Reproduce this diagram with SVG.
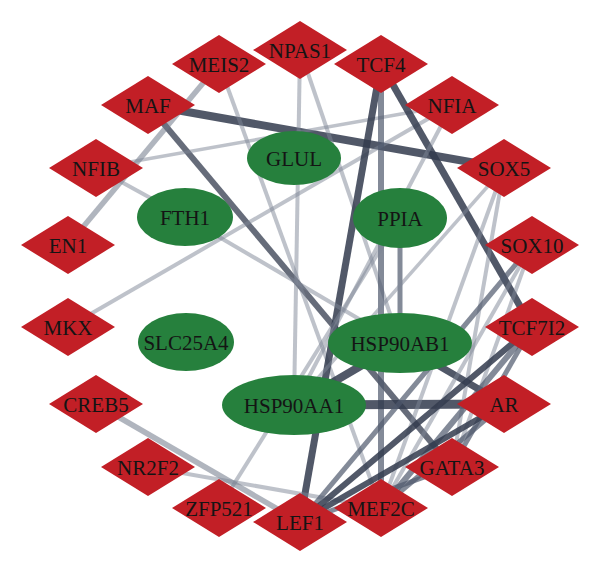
<svg xmlns="http://www.w3.org/2000/svg" xmlns:xlink="http://www.w3.org/1999/xlink" width="600" height="572" viewBox="0 0 600 572">
<style>
.e{fill:none;stroke-linecap:butt}
.l{stroke:#7d8596;stroke-opacity:0.5;stroke-width:4}
.l5{stroke:#6f7889;stroke-opacity:0.55;stroke-width:5.5}
.m{stroke:#4f586c;stroke-opacity:0.7;stroke-width:5.5}
.d{stroke:#333b4e;stroke-opacity:0.85;stroke-width:7}
.tf{fill:#c21f26}
.pr{fill:#26803d}
text{font-family:"Liberation Serif","Times New Roman",serif;font-size:21px;fill:#141414;text-anchor:middle}
</style>
<defs>
<polygon id="dm" points="-47,0 0,-29 47,0 0,29"/>
</defs>
<rect width="600" height="572" fill="#ffffff"/>
<g id="edges" class="e">
<line class="d" x1="148" y1="105" x2="504" y2="168" style="stroke-width:8"/>
<line class="d" x1="148" y1="105" x2="452" y2="467" style="stroke-width:6;stroke-opacity:0.75"/>
<line class="l5" x1="219" y1="64" x2="68" y2="245"/>
<line class="l" x1="219" y1="64" x2="381" y2="508"/>
<line class="l" x1="96" y1="168" x2="452" y2="105" style="stroke-width:3.5"/>
<line class="l" x1="96" y1="168" x2="185" y2="217"/>
<line class="l" x1="68" y1="327" x2="452" y2="105"/>
<line class="l" x1="300" y1="50" x2="294" y2="405"/>
<line class="l" x1="300" y1="50" x2="400" y2="343"/>
<line class="d" x1="381" y1="64" x2="300" y2="522"/>
<line class="m" x1="381" y1="64" x2="381" y2="508" style="stroke-width:6"/>
<line class="d" x1="381" y1="64" x2="532" y2="327"/>
<line class="l" x1="452" y1="105" x2="294" y2="405"/>
<line class="l" x1="185" y1="217" x2="400" y2="343"/>
<line class="m" x1="400" y1="218" x2="400" y2="343" style="stroke-width:5"/>
<line class="l" x1="400" y1="218" x2="219" y2="508"/>
<line class="d" x1="294" y1="405" x2="400" y2="343" style="stroke-width:8"/>
<line class="d" x1="294" y1="405" x2="504" y2="404" style="stroke-width:9"/>
<line class="d" x1="400" y1="343" x2="504" y2="404"/>
<line class="l5" x1="96" y1="404" x2="300" y2="522"/>
<line class="l" x1="148" y1="467" x2="381" y2="508"/>
<line class="l" x1="504" y1="168" x2="452" y2="467"/>
<line class="l" x1="504" y1="168" x2="381" y2="508"/>
<line class="l" x1="504" y1="168" x2="294" y2="405" style="stroke-width:3.5"/>
<line class="m" x1="532" y1="245" x2="300" y2="522" style="stroke-width:5"/>
<line class="l" x1="532" y1="245" x2="381" y2="508"/>
<line class="l" x1="532" y1="245" x2="452" y2="467"/>
<line class="d" x1="532" y1="327" x2="300" y2="522" style="stroke-width:6"/>
<line class="m" x1="532" y1="327" x2="381" y2="508" style="stroke-width:6"/>
<line class="m" x1="532" y1="327" x2="452" y2="467" style="stroke-width:5"/>
<line class="d" x1="504" y1="404" x2="300" y2="522" style="stroke-width:6"/>
<line class="m" x1="504" y1="404" x2="381" y2="508" style="stroke-width:5"/>
<line class="m" x1="452" y1="467" x2="300" y2="522" style="stroke-width:5"/>
</g>
<g id="nodes">
<g id="n-GLUL"><ellipse class="pr" cx="294" cy="158" rx="47" ry="27"/><text x="294" y="165.5">GLUL</text></g>
<g id="n-FTH1"><ellipse class="pr" cx="185" cy="217" rx="48" ry="29"/><text x="185" y="224.5">FTH1</text></g>
<g id="n-PPIA"><ellipse class="pr" cx="400" cy="218" rx="47" ry="30"/><text x="400" y="225.5">PPIA</text></g>
<g id="n-SLC25A4"><ellipse class="pr" cx="186" cy="342" rx="48" ry="29"/><text x="186" y="349.5">SLC25A4</text></g>
<g id="n-HSP90AB1"><ellipse class="pr" cx="400" cy="343" rx="72" ry="30"/><text x="400" y="350.5">HSP90AB1</text></g>
<g id="n-HSP90AA1"><ellipse class="pr" cx="294" cy="405" rx="72" ry="30"/><text x="294" y="412.5">HSP90AA1</text></g>
<g id="n-NPAS1"><use xlink:href="#dm" class="tf" x="300" y="50"/><text x="300" y="57.5">NPAS1</text></g>
<g id="n-TCF4"><use xlink:href="#dm" class="tf" x="381" y="64"/><text x="381" y="71.5">TCF4</text></g>
<g id="n-NFIA"><use xlink:href="#dm" class="tf" x="452" y="105"/><text x="452" y="112.5">NFIA</text></g>
<g id="n-SOX5"><use xlink:href="#dm" class="tf" x="504" y="168"/><text x="504" y="175.5">SOX5</text></g>
<g id="n-SOX10"><use xlink:href="#dm" class="tf" x="532" y="245"/><text x="532" y="252.5">SOX10</text></g>
<g id="n-TCF7I2"><use xlink:href="#dm" class="tf" x="532" y="327"/><text x="532" y="334.5">TCF7I2</text></g>
<g id="n-AR"><use xlink:href="#dm" class="tf" x="504" y="404"/><text x="504" y="411.5">AR</text></g>
<g id="n-GATA3"><use xlink:href="#dm" class="tf" x="452" y="467"/><text x="452" y="474.5">GATA3</text></g>
<g id="n-MEF2C"><use xlink:href="#dm" class="tf" x="381" y="508"/><text x="381" y="515.5">MEF2C</text></g>
<g id="n-LEF1"><use xlink:href="#dm" class="tf" x="300" y="522"/><text x="300" y="529.5">LEF1</text></g>
<g id="n-ZFP521"><use xlink:href="#dm" class="tf" x="219" y="508"/><text x="219" y="515.5">ZFP521</text></g>
<g id="n-NR2F2"><use xlink:href="#dm" class="tf" x="148" y="467"/><text x="148" y="474.5">NR2F2</text></g>
<g id="n-CREB5"><use xlink:href="#dm" class="tf" x="96" y="404"/><text x="96" y="411.5">CREB5</text></g>
<g id="n-MKX"><use xlink:href="#dm" class="tf" x="68" y="327"/><text x="68" y="334.5">MKX</text></g>
<g id="n-EN1"><use xlink:href="#dm" class="tf" x="68" y="245"/><text x="68" y="252.5">EN1</text></g>
<g id="n-NFIB"><use xlink:href="#dm" class="tf" x="96" y="168"/><text x="96" y="175.5">NFIB</text></g>
<g id="n-MAF"><use xlink:href="#dm" class="tf" x="148" y="105"/><text x="148" y="112.5">MAF</text></g>
<g id="n-MEIS2"><use xlink:href="#dm" class="tf" x="219" y="64"/><text x="219" y="71.5">MEIS2</text></g>
</g>
</svg>
